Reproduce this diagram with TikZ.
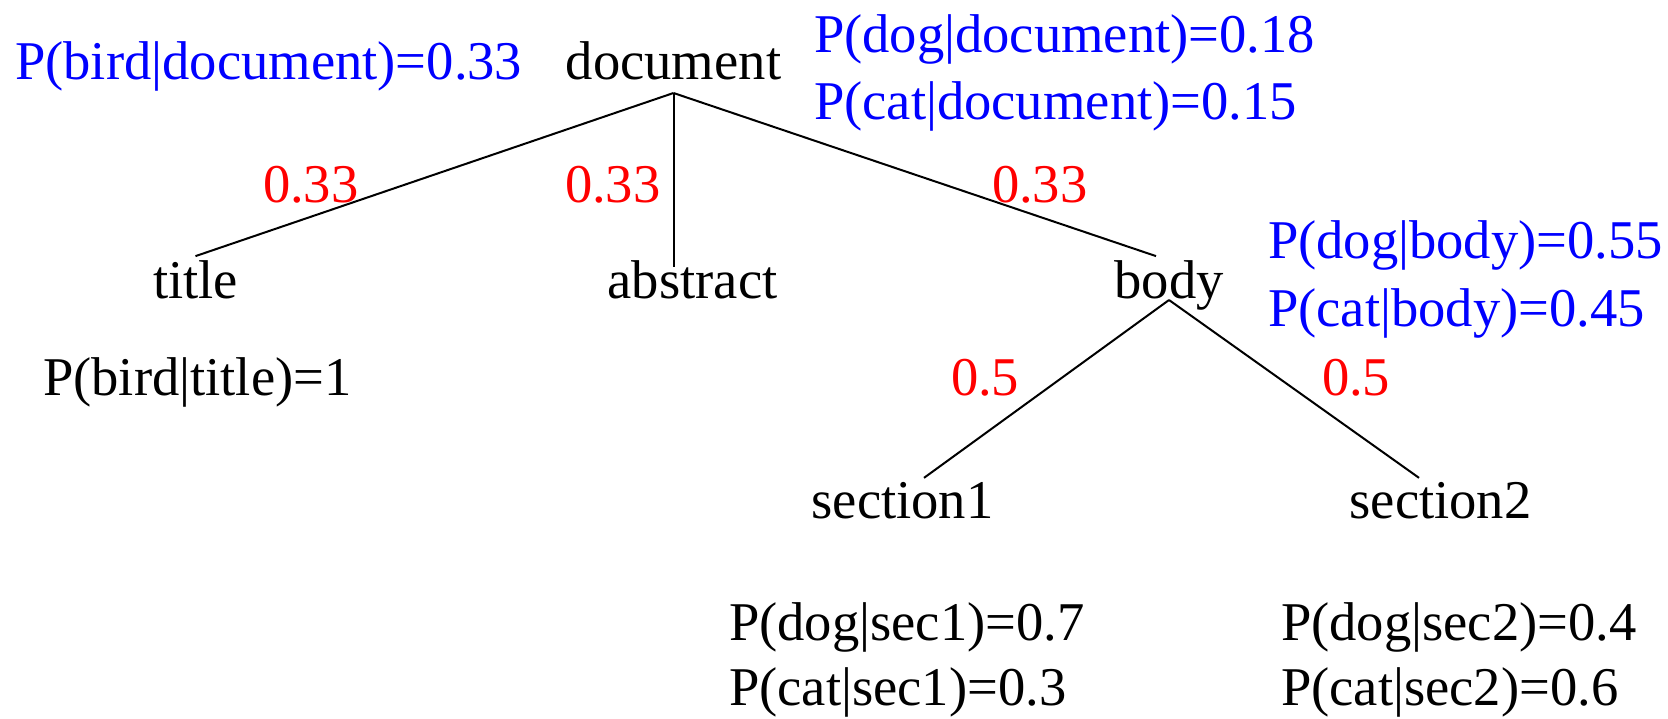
\documentclass[tikz,border=0pt]{standalone}
\usepackage{fontspec}
\setmainfont{Liberation Serif}
\begin{document}
\begin{tikzpicture}[x=0.5pt,y=-0.5pt,
  every node/.style={font=\fontsize{27.3}{32}\selectfont, inner sep=0pt, outer sep=0pt},
  tree/.style={anchor=base, inner sep=2pt},
  prob/.style={anchor=base west, text=blue},
  leafprob/.style={anchor=base west, text=black},
  weight/.style={anchor=base west, text=red},
  edge/.style={line width=1pt}]
\useasboundingbox (0,0) rectangle (1668,718);

% tree nodes
\node[tree] (document) at (673.5,79) {document};
\node[tree] (title) at (195.5,298) {title};
\node[tree] (abstract) at (692.5,298) {abstract};
\node[tree] (body) at (1169,298) {body};
\node[tree] (section1) at (902.5,518) {section1};
\node[tree] (section2) at (1440.5,518) {section2};

% word probabilities attached to nodes
\node[prob] (pbirddoc) at (15,79) {P(bird|document)=0.33};
\node[prob] (pdogdoc) at (814,52) {P(dog|document)=0.18};
\node[prob] (pcatdoc) at (814,119) {P(cat|document)=0.15};
\node[prob] (pdogbody) at (1268,258) {P(dog|body)=0.55};
\node[prob] (pcatbody) at (1268,326) {P(cat|body)=0.45};
\node[leafprob] (pbirdtitle) at (43,395) {P(bird|title)=1};
\node[leafprob] (pdogsa) at (729,640) {P(dog|sec1)=0.7};
\node[leafprob] (pcatsa) at (729,705) {P(cat|sec1)=0.3};
\node[leafprob] (pdogsb) at (1281,640) {P(dog|sec2)=0.4};
\node[leafprob] (pcatsb) at (1281,705) {P(cat|sec2)=0.6};

% edge weights
\node[weight] (wtitle) at (263,202) {0.33};
\node[weight] (wabstract) at (565,202) {0.33};
\node[weight] (wbody) at (992,202) {0.33};
\node[weight] (wseca) at (951,395) {0.5};
\node[weight] (wsecb) at (1322,395) {0.5};

% junction points below the parents
\coordinate (docJ) at ([yshift=-7pt]document.base);
\coordinate (bodyJ) at ([yshift=-1pt]body.base);

% edges
\draw[edge] (docJ) -- (title.north);
\draw[edge] (docJ) -- ([yshift=-5.5pt]docJ |- abstract.north);
\draw[edge] (docJ) -- ([xshift=-6.5pt]body.north);
\draw[edge] (bodyJ) -- ([xshift=10.75pt]section1.north);
\draw[edge] (bodyJ) -- ([xshift=-10.75pt]section2.north);
\end{tikzpicture}
\end{document}
